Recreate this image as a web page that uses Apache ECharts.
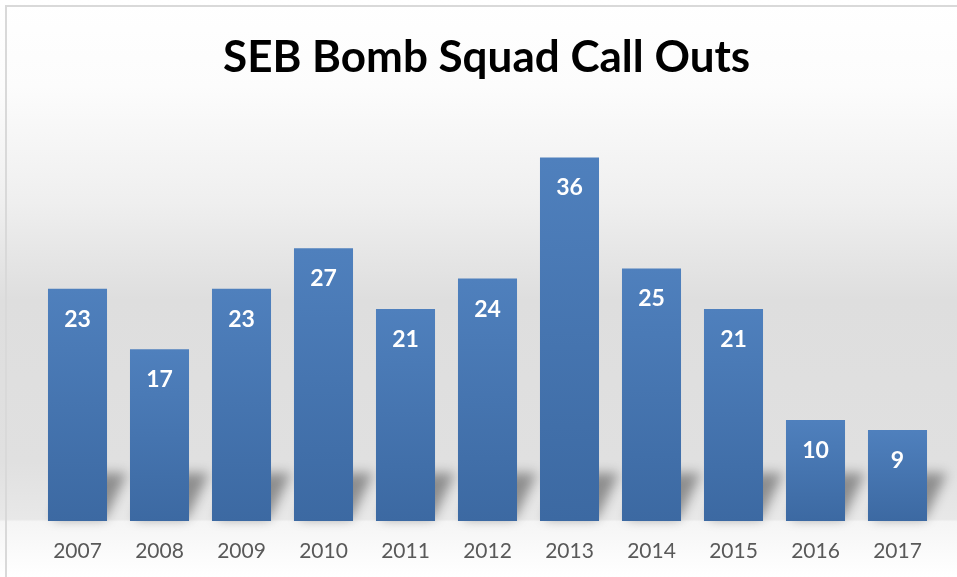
<!DOCTYPE html>
<html style="height: 100%">
<head>
<meta charset="utf-8">
<title>SEB Bomb Squad Call Outs</title>
</head>
<body style="height: 100%; margin: 0">
<div id="container" style="width: 957px; height: 577px"></div>
<script src="https://cdn.jsdelivr.net/npm/echarts@6/dist/echarts.min.js"></script>
<script type="text/javascript">
var years = ['2007', '2008', '2009', '2010', '2011', '2012', '2013', '2014', '2015', '2016', '2017'];
var callOuts = [23, 17, 23, 27, 21, 24, 36, 25, 21, 10, 9];

var myChart = echarts.init(document.getElementById('container'));

// soft "floor" shadow behind each bar, drawn through the axis scales.
// the shape itself sits off screen, only its blurred shadow lands on the chart
var SHIFT = 3000;
function renderShadow(params, api) {
    var base = api.coord([api.value(0), 0]);
    var band = api.size([1, 0])[0];
    var half = band * 0.72 / 2;
    var xl = base[0] - half + SHIFT, xr = base[0] + half + SHIFT, y = base[1];
    return {
        type: 'polygon',
        shape: {
            points: [[xl + 4, y - 2], [xr - 2, y - 2], [xr + 20, y - 48], [xl + 26, y - 48]]
        },
        style: {
            fill: '#000',
            shadowBlur: 12,
            shadowOffsetX: -SHIFT,
            shadowOffsetY: 0,
            shadowColor: 'rgba(0,0,0,0.38)'
        },
        silent: true
    };
}

var option = {
    animation: false,
    backgroundColor: new echarts.graphic.LinearGradient(0, 0, 0, 1, [
        { offset: 0, color: '#ffffff' },
        { offset: 0.15, color: '#fcfcfc' },
        { offset: 0.35, color: '#efefef' },
        { offset: 0.52, color: '#dedede' },
        { offset: 0.8, color: '#e0e0e0' },
        { offset: 0.9, color: '#e8e8e8' },
        { offset: 0.904, color: '#f5f5f5' },
        { offset: 1, color: '#ffffff' }
    ]),
    title: {
        text: 'SEB Bomb Squad Call Outs',
        left: 218,
        top: 31,
        textStyle: {
            fontFamily: 'Lato',
            fontWeight: 'bold',
            fontSize: 44,
            color: '#000000'
        }
    },
    graphic: [{
        type: 'rect',
        shape: { x: 6, y: 6, width: 1000, height: 1000 },
        style: { fill: 'none', stroke: '#d9d9d9', lineWidth: 2 },
        silent: true
    }],
    grid: {
        left: 36.5,
        right: 18.5,
        top: 117,
        bottom: 56
    },
    xAxis: {
        type: 'category',
        data: years,
        axisLine: { show: false },
        axisTick: { show: false },
        axisLabel: {
            margin: 20,
            fontFamily: 'Lato',
            fontSize: 21,
            color: '#595959'
        }
    },
    yAxis: {
        type: 'value',
        min: 0,
        max: 40,
        show: false
    },
    series: [{
        type: 'custom',
        renderItem: renderShadow,
        data: callOuts.map(function (v, i) { return [i, v]; }),
        encode: { x: 0, y: 1 },
        z: 1,
        clip: false
    }, {
        type: 'bar',
        data: callOuts,
        barCategoryGap: '28%',
        z: 3,
        itemStyle: {
            color: new echarts.graphic.LinearGradient(0, 0, 0, 1, [
                { offset: 0, color: '#4f80bd' },
                { offset: 1, color: '#3c69a2' }
            ])
        },
        label: {
            show: true,
            position: 'insideTop',
            distance: 19,
            fontFamily: 'Lato',
            fontWeight: 'bold',
            fontSize: 23,
            color: '#ffffff'
        }
    }]
};

myChart.setOption(option);
</script>
</body>
</html>
